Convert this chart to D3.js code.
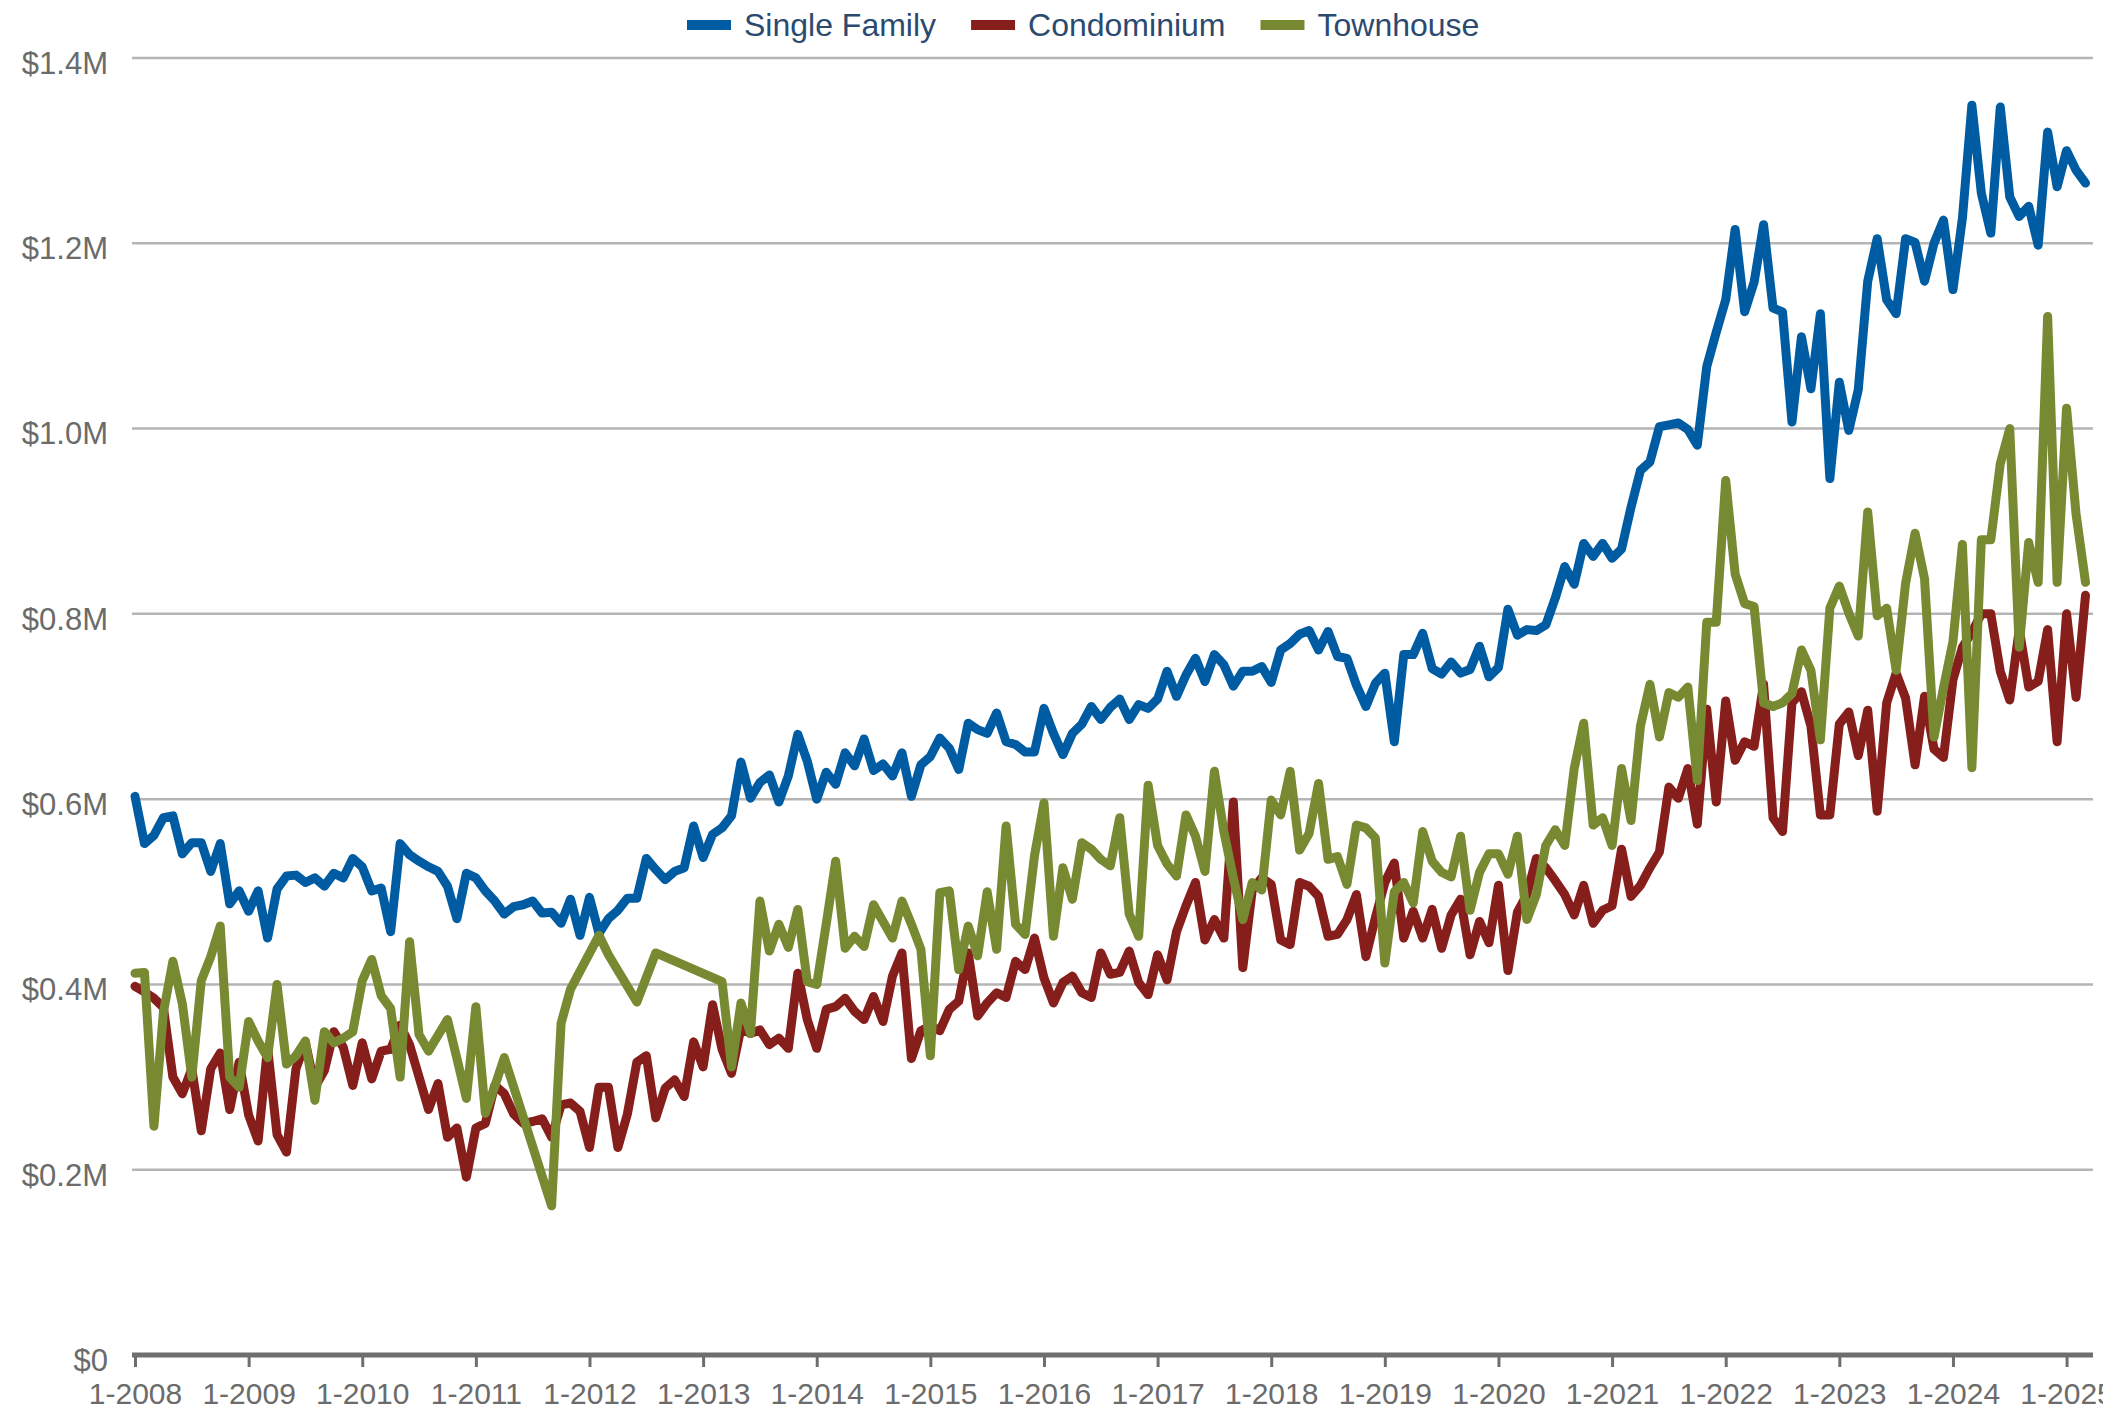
<!DOCTYPE html>
<html lang="en">
<head>
<meta charset="UTF-8">
<title>Median Sales Price by Property Type</title>
<script src="https://d3js.org/d3.v7.min.js"></script>
<style>
  body { margin: 0; background: #fff; }
  svg { display: block; font-family: "Liberation Sans", Arial, sans-serif; }
</style>
</head>
<body>
<svg id="chart" width="2103" height="1417"></svg>
<script>
// monthly median price in $M, index 0 = Jan 2008, last = Mar 2025
const singleFamily = [
  0.603, 0.552, 0.561, 0.580, 0.582, 0.541, 0.553, 0.553, 0.522, 0.552,
  0.487, 0.501, 0.479, 0.501, 0.450, 0.503, 0.517, 0.518, 0.510, 0.515,
  0.506, 0.520, 0.515, 0.536, 0.527, 0.501, 0.504, 0.457, 0.552, 0.540,
  0.533, 0.527, 0.522, 0.506, 0.471, 0.520, 0.515, 0.501, 0.490, 0.476,
  0.484, 0.486, 0.490, 0.477, 0.478, 0.466, 0.492, 0.453, 0.494, 0.455,
  0.471, 0.480, 0.493, 0.493, 0.536, 0.524, 0.513, 0.522, 0.526, 0.571,
  0.537, 0.562, 0.569, 0.582, 0.640, 0.601, 0.618, 0.626, 0.597, 0.625,
  0.670, 0.641, 0.600, 0.629, 0.616, 0.650, 0.636, 0.665, 0.631, 0.638,
  0.625, 0.650, 0.603, 0.637, 0.646, 0.666, 0.655, 0.632, 0.682, 0.675,
  0.671, 0.693, 0.662, 0.659, 0.651, 0.651, 0.698, 0.671, 0.648, 0.671,
  0.681, 0.700, 0.686, 0.699, 0.708, 0.686, 0.702, 0.698, 0.708, 0.738,
  0.711, 0.734, 0.752, 0.727, 0.756, 0.745, 0.722, 0.738, 0.738, 0.743,
  0.726, 0.761, 0.768, 0.778, 0.782, 0.761, 0.781, 0.754, 0.752, 0.723,
  0.700, 0.725, 0.736, 0.662, 0.756, 0.756, 0.779, 0.741, 0.735, 0.748,
  0.736, 0.740, 0.765, 0.732, 0.742, 0.805, 0.777, 0.783, 0.782, 0.788,
  0.817, 0.851, 0.832, 0.876, 0.862, 0.876, 0.860, 0.870, 0.915, 0.955,
  0.964, 1.002, 1.004, 1.006, 0.999, 0.982, 1.067, 1.104, 1.139, 1.215,
  1.126, 1.158, 1.220, 1.130, 1.126, 1.007, 1.099, 1.043, 1.124, 0.946,
  1.050, 0.998, 1.042, 1.159, 1.205, 1.139, 1.124, 1.205, 1.201, 1.159,
  1.200, 1.225, 1.150, 1.227, 1.349, 1.254, 1.211, 1.347, 1.250, 1.229,
  1.240, 1.198, 1.320, 1.261, 1.300, 1.279, 1.265
];

const condominium = [
  0.398, 0.392, 0.385, 0.375, 0.300, 0.282, 0.309, 0.242, 0.309, 0.326,
  0.265, 0.316, 0.259, 0.231, 0.332, 0.238, 0.219, 0.309, 0.337, 0.289,
  0.307, 0.349, 0.332, 0.291, 0.337, 0.298, 0.328, 0.330, 0.356, 0.335,
  0.300, 0.265, 0.293, 0.235, 0.245, 0.192, 0.245, 0.250, 0.291, 0.282,
  0.260, 0.250, 0.252, 0.255, 0.235, 0.270, 0.272, 0.263, 0.224, 0.289,
  0.289, 0.224, 0.260, 0.316, 0.323, 0.256, 0.288, 0.297, 0.279, 0.338,
  0.311, 0.378, 0.330, 0.304, 0.353, 0.347, 0.351, 0.335, 0.342, 0.331,
  0.412, 0.362, 0.331, 0.373, 0.376, 0.385, 0.371, 0.362, 0.387, 0.360,
  0.409, 0.434, 0.320, 0.350, 0.355, 0.350, 0.373, 0.382, 0.434, 0.366,
  0.380, 0.391, 0.386, 0.425, 0.416, 0.450, 0.407, 0.380, 0.402, 0.409,
  0.391, 0.386, 0.434, 0.411, 0.413, 0.436, 0.402, 0.389, 0.432, 0.405,
  0.457, 0.485, 0.510, 0.448, 0.470, 0.450, 0.597, 0.418, 0.502, 0.515,
  0.508, 0.448, 0.443, 0.510, 0.506, 0.495, 0.452, 0.454, 0.470, 0.497,
  0.430, 0.472, 0.510, 0.531, 0.450, 0.479, 0.450, 0.481, 0.439, 0.475,
  0.492, 0.432, 0.468, 0.445, 0.507, 0.415, 0.478, 0.497, 0.536, 0.526,
  0.512, 0.497, 0.475, 0.507, 0.466, 0.480, 0.485, 0.546, 0.495, 0.507,
  0.526, 0.543, 0.613, 0.601, 0.633, 0.573, 0.697, 0.597, 0.706, 0.642,
  0.662, 0.657, 0.724, 0.580, 0.565, 0.704, 0.716, 0.679, 0.583, 0.583,
  0.681, 0.694, 0.647, 0.696, 0.587, 0.704, 0.736, 0.709, 0.637, 0.711,
  0.654, 0.645, 0.729, 0.764, 0.780, 0.800, 0.800, 0.738, 0.707, 0.783,
  0.721, 0.727, 0.783, 0.662, 0.800, 0.710, 0.820
];

// null = no townhouse sale that month (line is drawn straight across)
const townhouse = [
  0.412, 0.413, 0.247, 0.370, 0.425, 0.379, 0.300, 0.404, 0.430, 0.463,
  0.300, 0.289, 0.360, 0.339, 0.321, 0.400, 0.314, 0.323, 0.339, 0.275,
  0.349, 0.337, 0.342, 0.349, 0.404, 0.427, 0.388, 0.374, 0.300, 0.446,
  0.346, 0.328, 0.345, 0.362, 0.320, 0.277, 0.376, 0.261, 0.290, 0.321,
  null, null, null, null, 0.161, 0.358, 0.395, null, null, 0.453,
  0.432, null, null, 0.381, null, 0.434, null, null, null, null,
  null, null, 0.403, 0.311, 0.380, 0.347, 0.490, 0.436, 0.465, 0.440,
  0.481, 0.403, 0.400, 0.465, 0.533, 0.439, 0.452, 0.441, 0.486, 0.468,
  0.450, 0.490, 0.465, 0.438, 0.323, 0.499, 0.501, 0.416, 0.463, 0.431,
  0.500, 0.438, 0.571, 0.465, 0.454, 0.539, 0.596, 0.452, 0.526, 0.492,
  0.553, 0.546, 0.535, 0.528, 0.580, 0.476, 0.452, 0.615, 0.550, 0.530,
  0.517, 0.583, 0.560, 0.522, 0.630, 0.565, 0.515, 0.470, 0.510, 0.502,
  0.599, 0.583, 0.630, 0.545, 0.563, 0.617, 0.535, 0.538, 0.508, 0.572,
  0.569, 0.558, 0.423, 0.500, 0.510, 0.488, 0.565, 0.533, 0.521, 0.516,
  0.560, 0.480, 0.521, 0.541, 0.541, 0.519, 0.560, 0.470, 0.497, 0.550,
  0.567, 0.550, 0.633, 0.682, 0.572, 0.580, 0.550, 0.633, 0.577, 0.679,
  0.724, 0.667, 0.715, 0.710, 0.721, 0.620, 0.791, 0.791, 0.944, 0.843,
  0.811, 0.808, 0.704, 0.700, 0.704, 0.714, 0.761, 0.739, 0.664, 0.806,
  0.830, 0.801, 0.776, 0.910, 0.798, 0.806, 0.739, 0.833, 0.887, 0.838,
  0.667, 0.720, 0.770, 0.875, 0.634, 0.880, 0.880, 0.962, 1.000, 0.764,
  0.877, 0.834, 1.121, 0.834, 1.022, 0.908, 0.834
];

const yearLabels = ["1-2008", "1-2009", "1-2010", "1-2011", "1-2012", "1-2013",
  "1-2014", "1-2015", "1-2016", "1-2017", "1-2018", "1-2019", "1-2020",
  "1-2021", "1-2022", "1-2023", "1-2024", "1-2025"];
const yTicks = [0, 0.2, 0.4, 0.6, 0.8, 1.0, 1.2, 1.4];
const seriesNames = ["Single Family", "Condominium", "Townhouse"];

const colors = ["#005ca2", "#861f1b", "#778a32"];

const svg = d3.select("#chart");

// month index -> x (Jan of each year is a tick)
const x = d3.scaleLinear().domain([0, 206]).range([135, 2085.5]);
const y = d3.scaleLinear().domain([0, 1.4]).range([1355, 58]);

const plotLeft = 132, plotRight = 2093;

// gridlines
svg.append("g")
  .selectAll("line")
  .data(yTicks.filter(d => d > 0))
  .join("line")
  .attr("x1", plotLeft)
  .attr("x2", plotRight)
  .attr("y1", d => y(d))
  .attr("y2", d => y(d))
  .attr("stroke", "#b5b5b5")
  .attr("stroke-width", 2.5);

// y labels
svg.append("g")
  .selectAll("text")
  .data(yTicks)
  .join("text")
  .attr("x", 108)
  .attr("y", d => y(d) + 5)
  .attr("dy", "0.35em")
  .attr("text-anchor", "end")
  .attr("fill", "#6b6b6b")
  .attr("font-size", 31)
  .text(d => d === 0 ? "$0" : "$" + d.toFixed(1) + "M");

// x axis
const xAxis = d3.axisBottom(x)
  .tickValues(d3.range(0, 205, 12))
  .tickFormat((d, i) => yearLabels[i])
  .tickSize(12)
  .tickPadding(16);

const gx = svg.append("g")
  .attr("transform", `translate(0,${y(0)})`)
  .call(xAxis);
gx.select(".domain").remove();
gx.selectAll(".tick line").attr("stroke", "#6e6e6e").attr("stroke-width", 3);
gx.selectAll(".tick text")
  .attr("fill", "#6b6b6b")
  .attr("font-size", 30)
  .attr("font-family", "Liberation Sans, Arial, sans-serif");

gx.append("line")
  .attr("x1", plotLeft)
  .attr("x2", plotRight)
  .attr("y1", 0)
  .attr("y2", 0)
  .attr("stroke", "#6e6e6e")
  .attr("stroke-width", 5);

// lines
const allSeries = [singleFamily, condominium, townhouse];
const line = d3.line()
  .x(d => x(d.i))
  .y(d => y(d.v));

allSeries.forEach((vals, k) => {
  const pts = vals.map((v, i) => ({ i: i, v: v })).filter(d => d.v != null);
  svg.append("path")
    .datum(pts)
    .attr("d", line)
    .attr("fill", "none")
    .attr("stroke", colors[k])
    .attr("stroke-width", 9)
    .attr("stroke-linejoin", "round")
    .attr("stroke-linecap", "round");
});

// legend
const legend = svg.append("g");
let lx = 687;
seriesNames.forEach((name, k) => {
  legend.append("rect")
    .attr("x", lx)
    .attr("y", 20)
    .attr("width", 44)
    .attr("height", 10)
    .attr("fill", colors[k]);
  const t = legend.append("text")
    .attr("x", lx + 57)
    .attr("y", 36)
    .attr("fill", "#2b4a6f")
    .attr("font-size", 32)
    .text(name);
  lx += 57 + t.node().getComputedTextLength() + 35;
});
</script>
</body>
</html>
